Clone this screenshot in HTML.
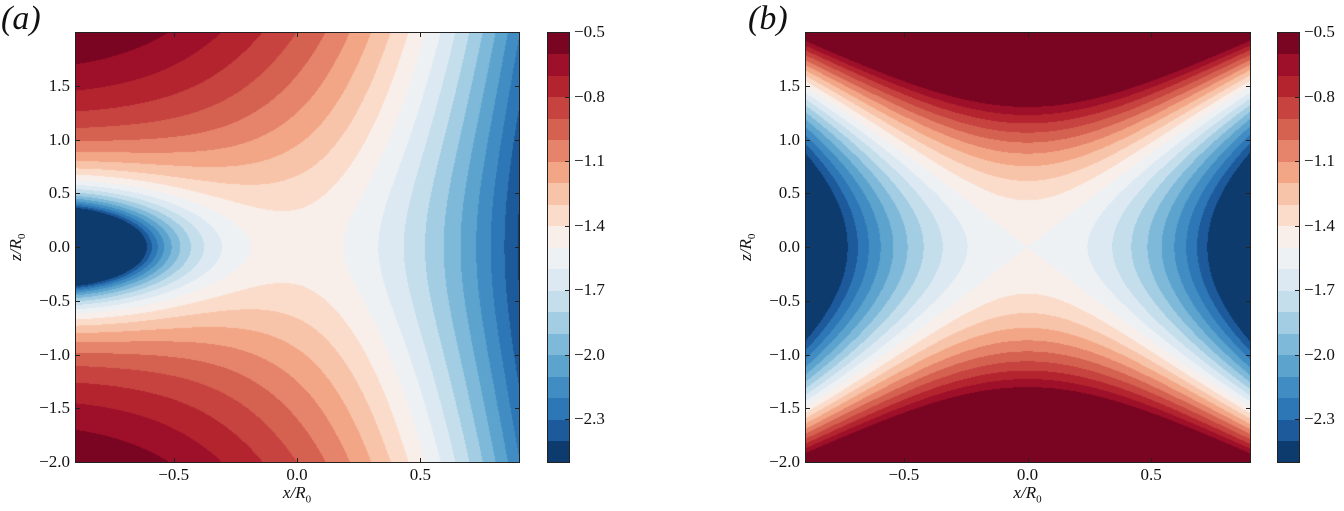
<!DOCTYPE html>
<html><head><meta charset="utf-8">
<style>
body{margin:0;background:#fff;width:1344px;height:511px;overflow:hidden;position:relative;font-family:"Liberation Serif",serif;}
.abs{position:absolute;}
canvas{position:absolute;}
.frame{position:absolute;border:1px solid #222;box-sizing:border-box;}
.tl{position:absolute;font-size:17px;color:#111;white-space:nowrap;}
.tick{position:absolute;background:#222;}
</style></head><body>
<div id="root"></div>
<script>
// ---- data ----
const levels=[-2.5,-2.4,-2.3,-2.2,-2.1,-2.0,-1.9,-1.8,-1.7,-1.6,-1.5,-1.4,-1.3,-1.2,-1.1,-1.0,-0.9,-0.8,-0.7,-0.6,-0.5];
const bandColors=["#0d3b6e","#1c5a9c","#2e77b6","#418dc3","#5ca3cd","#7eb9d9","#a3cde3","#c4deec","#dce9f2","#eef1f4",
"#f9efea","#fbdccb","#f8c4a9","#f2a686","#e5846a","#d56150","#c6433f","#b3242f","#9e0f29","#7a0522"];
const cbTicks=[-0.5,-0.8,-1.1,-1.4,-1.7,-2.0,-2.3];
const xTicks=[-0.5,0.0,0.5];
const yTicks=[-2.0,-1.5,-1.0,-0.5,0.0,0.5,1.0,1.5];
const xRange=[-0.9,0.9];
const zRange=[-2.0,2.0];
// panel a model: point well + tidal terms
const wellA=[0.85,-1.0]; // strength, x position
const termsA=[-0.6,-0.85,0.02,0.74,0.4]; // offset, linear x, z^2, x^2 (x>0), x^2 (x<0)
// panel b model: saddle
const termsB=[-1.5,0.53,1.7,0.0,0.11]; // offset, z^2, x^2, x^4, x^2 z^2

function fieldA(x,z){const r=Math.sqrt((x-wellA[1])**2+z*z);
  const k=x>0?termsA[3]:termsA[4];
  return -wellA[0]/r+termsA[0]+termsA[1]*x+termsA[2]*z*z-k*x*x;}
function fieldB(x,z){const x2=x*x;return termsB[0]+termsB[1]*z*z-termsB[2]*x2+termsB[3]*x2*x2+termsB[4]*x2*z*z;}

const root=document.getElementById('root');
function el(tag,cls,style,text){const e=document.createElement(tag);if(cls)e.className=cls;if(style)e.style.cssText=style;if(text!=null)e.textContent=text;root.appendChild(e);return e;}
function bandIndex(v){let i=Math.floor((v-levels[0])/0.1);if(i<0)i=0;if(i>bandColors.length-1)i=bandColors.length-1;return i;}
function hex(c){return [parseInt(c.slice(1,3),16),parseInt(c.slice(3,5),16),parseInt(c.slice(5,7),16)];}
const rgb=bandColors.map(hex);

function panel(L,T,W,H,cbL,fn,label,labelX,nm){
  const sx=x=>L+(x-xRange[0])/(xRange[1]-xRange[0])*W;
  const sy=z=>T+(zRange[1]-z)/(zRange[1]-zRange[0])*H;
  const cv=el('canvas');cv.width=W;cv.height=H;cv.style.left=L+'px';cv.style.top=T+'px';
  
  
  const ctx=cv.getContext('2d');const img=ctx.createImageData(W,H);
  for(let j=0;j<H;j++){const z=zRange[1]-(j+0.5)/H*(zRange[1]-zRange[0]);
    for(let i=0;i<W;i++){const x=xRange[0]+(i+0.5)/W*(xRange[1]-xRange[0]);
      const c=rgb[bandIndex(fn(x,z))];const k=(j*W+i)*4;img.data[k]=c[0];img.data[k+1]=c[1];img.data[k+2]=c[2];img.data[k+3]=255;}}
  ctx.putImageData(img,0,0);
  const fr=el('div','frame',`left:${L}px;top:${T}px;width:${W+1}px;height:${H+1}px`);
  
  
  yTicks.forEach(v=>{const y=sy(v);
    const t1=el('div','tick',`left:${L}px;top:${y}px;width:5px;height:1px`);
    
    
    el('div','tick',`left:${L+W-4}px;top:${y}px;width:5px;height:1px`);
    const t=el('div','tl',`right:${1344-L+5}px;top:${y-10}px`,(v<0?'\u2212':'')+Math.abs(v).toFixed(1));
    
    });
  xTicks.forEach(v=>{const x=sx(v);
    const t1=el('div','tick',`left:${x}px;top:${T+H-4}px;width:1px;height:5px`);
    
    
    el('div','tick',`left:${x}px;top:${T}px;width:1px;height:5px`);
    const t=el('div','tl',`left:${x-30}px;width:60px;text-align:center;top:${T+H+3}px`,(v<0?'\u2212':'')+Math.abs(v).toFixed(1));
    
    });
  const xl=el('div','tl',`left:${L+W/2-30}px;width:60px;text-align:center;top:${T+H+21}px;font-style:italic`);
  xl.innerHTML='x/R<sub style="font-size:11px;font-style:normal">0</sub>';
  
  
  const yl=el('div','tl',`left:${L-88}px;top:${T+H/2-11}px;width:60px;text-align:center;transform:rotate(-90deg);font-style:italic`);
  yl.innerHTML='z/R<sub style="font-size:11px;font-style:normal">0</sub>';
  
  
  // colorbar
  const cbW=22,bh=H/bandColors.length;
  bandColors.forEach((c,i)=>{const b=el('div','abs',`left:${cbL}px;top:${T+H-(i+1)*bh}px;width:${cbW}px;height:${bh+0.6}px;background:${c}`);
    
    });
  const cf=el('div','frame',`left:${cbL}px;top:${T}px;width:${cbW+1}px;height:${H+1}px`);
  
  
  const cy=v=>T+(levels[levels.length-1]-v)/(levels[levels.length-1]-levels[0])*H;
  cbTicks.forEach(v=>{const y=cy(v);
    el('div','tick',`left:${cbL+cbW-4}px;top:${y}px;width:5px;height:1px`);
    const t=el('div','tl',`left:${cbL+cbW+5}px;top:${y-10}px`,'\u2212'+Math.abs(v).toFixed(1));
    
    });
  const pl=el('div','tl',`left:${labelX}px;top:0px;font-size:34px;font-style:italic`,label);
  
  
}
panel(75,32,444,430,547,fieldA,'(a)',1,'panel-a');
panel(805,32,445,430,1277,fieldB,'(b)',748,'panel-b');
</script>
</body></html>
